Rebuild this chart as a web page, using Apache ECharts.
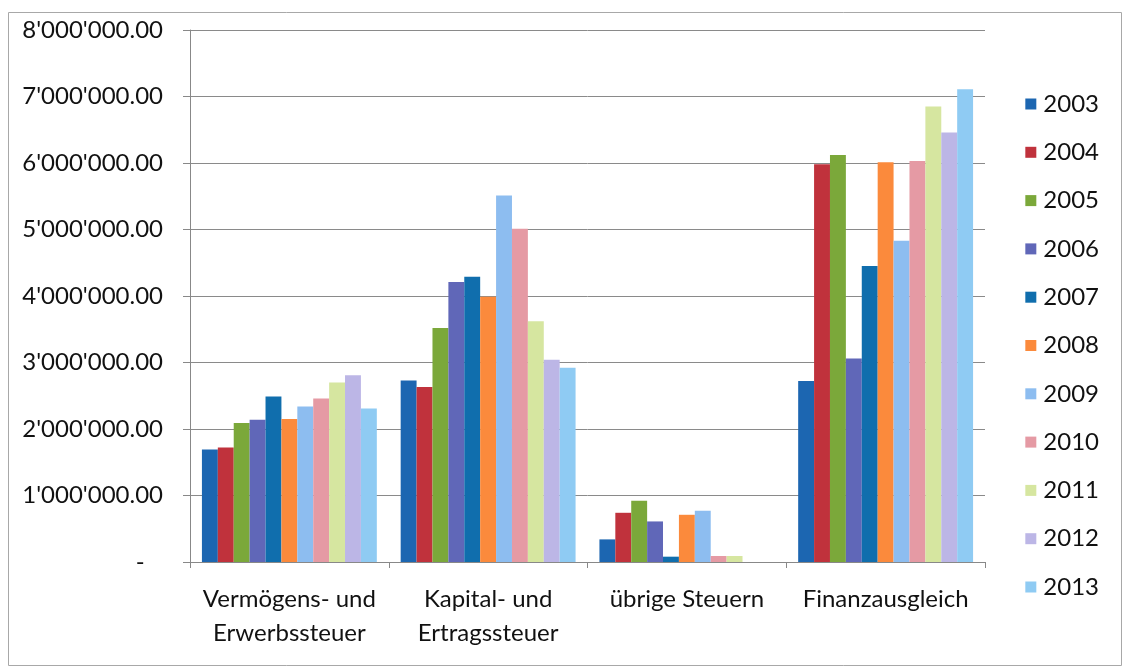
<!DOCTYPE html>
<html><head><meta charset="utf-8">
<script src="https://cdn.jsdelivr.net/npm/echarts@6/dist/echarts.min.js"></script>
<style>html,body{margin:0;padding:0;background:#fff}#c{width:1126px;height:668px}</style>
</head><body><div id="c"></div>
<script>
const categories = ['Vermögens- und\nErwerbssteuer', 'Kapital- und\nErtragssteuer', 'übrige Steuern', 'Finanzausgleich'];
const years = ['2003','2004','2005','2006','2007','2008','2009','2010','2011','2012','2013'];
const v2003 = [1690000, 2730000, 340000, 2720000];
const v2004 = [1720000, 2630000, 740000, 5980000];
const v2005 = [2090000, 3520000, 920000, 6120000];
const v2006 = [2140000, 4210000, 610000, 3060000];
const v2007 = [2490000, 4290000, 80000, 4450000];
const v2008 = [2150000, 3990000, 710000, 6010000];
const v2009 = [2340000, 5510000, 770000, 4830000];
const v2010 = [2460000, 5010000, 90000, 6030000];
const v2011 = [2700000, 3620000, 90000, 6850000];
const v2012 = [2810000, 3040000, 0, 6460000];
const v2013 = [2310000, 2920000, 0, 7110000];
const yTicks = [0, 1000000, 2000000, 3000000, 4000000, 5000000, 6000000, 7000000, 8000000];
const values = [v2003, v2004, v2005, v2006, v2007, v2008, v2009, v2010, v2011, v2012, v2013];
const colors = ['#1c66b1','#c0323c','#7ba83a','#6067b8','#106ead','#fb8a3c','#8dbdf0','#e59aa4','#d6e6a0','#bcb6e6','#8fcbf3'];

function fmt(v){
  if (v === 0) return '-   ';
  const s = Math.round(v).toString().replace(/\B(?=(\d{3})+(?!\d))/g, "'");
  return s + '.00';
}

const chart = echarts.init(document.getElementById('c'));
chart.setOption({
  animation: false,
  color: colors,
  textStyle: {fontFamily: 'Lato'},
  graphic: [{type:'rect', shape:{x:8.5,y:12.5,width:1113,height:653}, style:{fill:'none', stroke:'#a8a8a8', lineWidth:1}, silent:true}],
  grid: {left: 190, right: 141, top: 30, bottom: 106},
  legend: {
    orient: 'vertical', right: 22, top: 87,
    data: years, itemWidth: 11, itemHeight: 11, itemGap: 24.3,
    icon: 'rect',
    textStyle: {fontSize: 24, color: '#111', fontFamily: 'Lato', lineHeight: 24, padding: [0, 0, 0, 2]}
  },
  xAxis: {
    type: 'category', data: categories,
    axisLine: {lineStyle: {color: '#888'}},
    axisTick: {show: true, length: 6, lineStyle: {color: '#888'}},
    axisLabel: {fontSize: 24, color: '#111', lineHeight: 34, margin: 20, interval: 0}
  },
  yAxis: {
    type: 'value', min: 0, max: 8000000, interval: 1000000,
    axisLine: {show: true, lineStyle: {color: '#888'}},
    axisTick: {show: true, length: 7, lineStyle: {color: '#888'}},
    splitLine: {lineStyle: {color: '#8a8a8a'}},
    axisLabel: {fontSize: 24, color: '#111', margin: 27, formatter: fmt,
      customValues: yTicks}
  },
  series: years.map((y, i) => ({
    name: y, type: 'bar', data: values[i],
    barGap: '0%', barCategoryGap: '12%'
  }))
});
</script></body></html>
